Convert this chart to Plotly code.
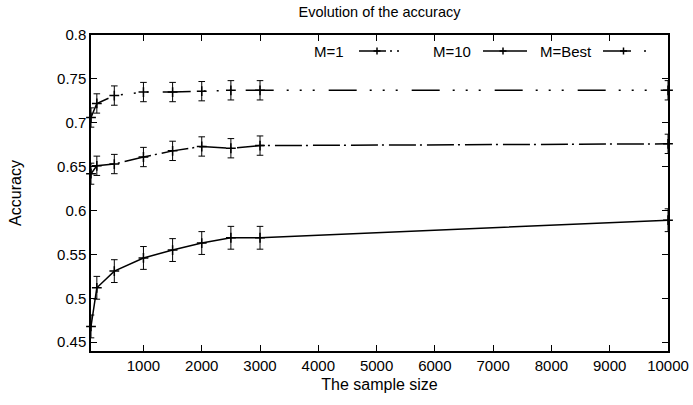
import plotly.graph_objects as go

sample_size = [100, 200, 500, 1000, 1500, 2000, 2500, 3000, 10000]

acc_m1 = [0.642, 0.651, 0.653, 0.661, 0.668, 0.673, 0.671, 0.674, 0.676]
err_m1 = [0.012, 0.011, 0.011, 0.011, 0.011, 0.011, 0.011, 0.011, 0.011]

acc_m10 = [0.468, 0.512, 0.531, 0.546, 0.555, 0.563, 0.569, 0.569, 0.589]
err_m10 = [0.013, 0.013, 0.013, 0.013, 0.013, 0.013, 0.013, 0.013, 0.013]

acc_best = [0.706, 0.722, 0.731, 0.735, 0.735, 0.736, 0.737, 0.737, 0.737]
err_best = [0.011, 0.011, 0.011, 0.011, 0.011, 0.011, 0.011, 0.011, 0.011]

series_names = ["M=1", "M=10", "M=Best"]
x_ticks = [1000, 2000, 3000, 4000, 5000, 6000, 7000, 8000, 9000, 10000]
y_ticks = [0.45, 0.5, 0.55, 0.6, 0.65, 0.7, 0.75, 0.8]

dashes = ["27px,4px,2px,5px", "solid", "28px,13px,2px,11px,2px,11px,2px,14px"]
values = [acc_m1, acc_m10, acc_best]
errors = [err_m1, err_m10, err_best]

W, H = 693, 405
ML, MR, MT, MB = 91, 25, 35, 54
PW, PH = W - ML - MR, H - MT - MB


def px_x(p):
    return (p - ML) / PW


def px_y(p):
    return (H - MB - p) / PH


fig = go.Figure()
for name, ys, es, dash in zip(series_names, values, errors, dashes):
    fig.add_trace(go.Scatter(
        x=sample_size, y=ys, name=name, mode="lines+markers",
        line=dict(color="black", width=1.5, dash=dash),
        marker=dict(symbol="cross-thin", size=7, line=dict(color="black", width=1.5)),
        error_y=dict(type="data", array=es, visible=True, color="black",
                     thickness=1, width=3.3),
        cliponaxis=False,
    ))

# gnuplot-style key: label text followed by the line sample
key_text_right = [345, 472, 593]
key_sample = [(359, 399), (483, 527), (603, 648)]
key_y = 51
annotations = []
shapes = []
for name, tr, (s0, s1), dash in zip(series_names, key_text_right, key_sample, dashes):
    annotations.append(dict(text=name, x=px_x(tr), y=px_y(key_y), xref="paper", yref="paper",
                            xanchor="right", yanchor="middle", showarrow=False,
                            borderpad=0, font=dict(size=15)))
    shapes.append(dict(type="line", xref="paper", yref="paper",
                       x0=px_x(s0), x1=px_x(s1), y0=px_y(key_y), y1=px_y(key_y),
                       line=dict(color="black", width=1.5, dash=dash)))
    cx = (s0 + s1) / 2 - 2
    shapes.append(dict(type="line", xref="paper", yref="paper",
                       x0=px_x(cx - 3.5), x1=px_x(cx + 3.5), y0=px_y(key_y), y1=px_y(key_y),
                       line=dict(color="black", width=1.5)))
    shapes.append(dict(type="line", xref="paper", yref="paper",
                       x0=px_x(cx), x1=px_x(cx), y0=px_y(key_y - 3.5), y1=px_y(key_y + 3.5),
                       line=dict(color="black", width=1.5)))

font = "Liberation Sans, Arial, Helvetica, sans-serif"
fig.update_layout(
    width=W, height=H,
    margin=dict(l=ML, r=MR, t=MT, b=MB, autoexpand=False),
    paper_bgcolor="white", plot_bgcolor="white",
    font=dict(family=font, size=15, color="black"),
    title=dict(text="Evolution of the accuracy", x=px_x(379.5), xanchor="center",
               xref="paper", y=1 - 12 / H, yanchor="middle", yref="container",
               font=dict(size=14.5, family=font, color="black")),
    showlegend=False,
    annotations=annotations,
    shapes=shapes,
)
fig.update_xaxes(
    range=[100, 10000], tickmode="array", tickvals=x_ticks,
    ticktext=[str(v) for v in x_ticks], automargin=False,
    ticks="inside", ticklen=6, tickwidth=1, tickcolor="black",
    showline=True, linecolor="black", linewidth=1.5, mirror="ticks",
    showgrid=False, zeroline=False, tickfont=dict(size=15),
    title=dict(text="The sample size", font=dict(size=16), standoff=6),
)
fig.update_yaxes(
    range=[0.44, 0.8], tickmode="array", tickvals=y_ticks,
    ticktext=[f"{v:g}" for v in y_ticks], automargin=False,
    ticks="inside", ticklen=6, tickwidth=1, tickcolor="black",
    showline=True, linecolor="black", linewidth=1.5, mirror="ticks",
    showgrid=False, zeroline=False, tickfont=dict(size=15),
    title=dict(text="Accuracy", font=dict(size=16), standoff=31),
)

fig.write_html("out.html")
